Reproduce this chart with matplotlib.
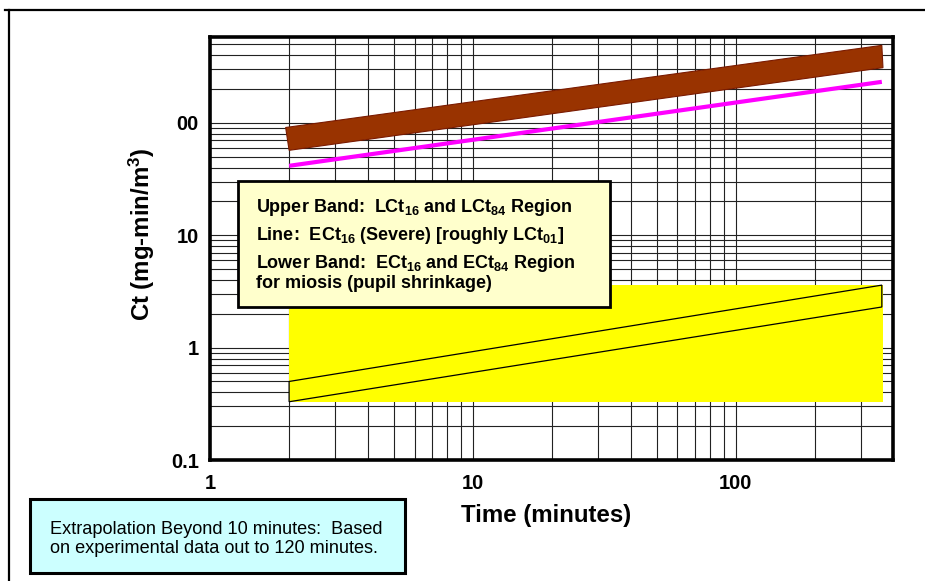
import matplotlib
matplotlib.use("Agg")
import matplotlib.pyplot as plt
from matplotlib.patches import Rectangle, Polygon
from matplotlib.lines import Line2D
from matplotlib.ticker import FixedLocator, LogLocator, NullFormatter

plt.rcParams['font.family'] = ['Liberation Sans', 'DejaVu Sans']
plt.rcParams['mathtext.fontset'] = 'custom'
plt.rcParams['mathtext.rm'] = 'Liberation Sans:bold'
plt.rcParams['mathtext.it'] = 'Liberation Sans:bold'
plt.rcParams['mathtext.bf'] = 'Liberation Sans:bold'

# donnees (temps en minutes, Ct en mg-min/m3)
times = [2, 360]
lct_upper = [91, 490]       # bande haute : LCt16 / LCt84
lct_lower = [57, 310]
ect16_severe = [41.5, 232]  # ligne ECt16 (severe)
miosis_upper = [0.50, 3.6]  # bande basse : ECt16 / ECt84 miosis
miosis_lower = [0.33, 2.3]

x_ticks = [1, 10, 100]
x_ticklabels = ['1', '10', '100']
y_ticks = [0.1, 1, 10, 100]
y_ticklabels = ['0.1', '1', '10', '00']

W, H = 925, 581
fig = plt.figure(figsize=(9.25, 5.81), dpi=100)
ax = fig.add_axes([210 / W, 1 - 460 / H, 683 / W, 423.3 / H])

ax.set_xscale('log')
ax.set_yscale('log')
ax.set_xlim(1, 397)
ax.set_ylim(0.1, 585)

# grille log complete
ax.set_axisbelow(True)
ax.xaxis.set_major_locator(FixedLocator(x_ticks))
ax.yaxis.set_major_locator(FixedLocator(y_ticks))
ax.xaxis.set_minor_locator(LogLocator(base=10, subs=range(2, 10)))
ax.yaxis.set_minor_locator(LogLocator(base=10, subs=range(2, 10)))
ax.xaxis.set_minor_formatter(NullFormatter())
ax.yaxis.set_minor_formatter(NullFormatter())
ax.set_xticklabels(x_ticklabels)
ax.set_yticklabels(y_ticklabels)
ax.grid(True, which='both', color='#222222', linewidth=0.8)
ax.tick_params(which='both', length=0)
ax.tick_params(axis='x', pad=10, labelsize=14.5)
ax.tick_params(axis='y', pad=8, labelsize=14.5)
for lab in ax.get_xticklabels() + ax.get_yticklabels():
    lab.set_fontweight('bold')
for sp in ax.spines.values():
    sp.set_linewidth(2.6)
    sp.set_zorder(5)

# bande basse (miosis) : rectangle jaune + bande
ax.add_patch(Rectangle((times[0], miosis_lower[0]), times[1] * 1.01 - times[0],
                       miosis_upper[1] - miosis_lower[0],
                       facecolor='#FFFF00', edgecolor='none', zorder=2))
ax.add_patch(Polygon([(times[0], miosis_lower[0]), (times[0], miosis_upper[0]),
                      (times[1], miosis_upper[1]), (times[1], miosis_lower[1])],
                     closed=True, facecolor='none', edgecolor='black',
                     linewidth=0.9, zorder=3))

# bande haute (LCt)
ax.add_patch(Polygon([(times[0] * 0.97, lct_upper[0]), (times[1], lct_upper[1]),
                      (times[1] * 1.01, lct_lower[1]), (times[0], lct_lower[0])],
                     closed=True, facecolor='#993300', edgecolor='#7a1a00',
                     linewidth=0.8, zorder=3))

# ligne ECt16
ax.plot(times, ect16_severe, color='#FF00FF', linewidth=3, zorder=3,
        solid_capstyle='butt')

ax.set_xlabel('Time (minutes)', fontsize=17.3, fontweight='bold')
ax.xaxis.set_label_coords(0.492, -0.105)
ax.set_ylabel('Ct (mg-min/m$^3$)', fontsize=17.3, fontweight='bold')
ax.yaxis.set_label_coords(-0.078, 0.534)

# cadre exterieur
fig.add_artist(Line2D([8.5 / W, 8.5 / W], [0, 1 - 10 / H], color='black',
                      linewidth=1.6, transform=fig.transFigure))
fig.add_artist(Line2D([5 / W, 1], [1 - 10 / H, 1 - 10 / H], color='black',
                      linewidth=1.6, transform=fig.transFigure))

# encadre legende
fig.add_artist(Rectangle((237.5 / W, 1 - 306.5 / H), 372.5 / W, 125.5 / H,
                         facecolor='#FFFFCC', edgecolor='black', linewidth=2,
                         transform=fig.transFigure, zorder=6))
legend_lines = [
    (207, 'Upper Band:  LCt$_{16}$ and LCt$_{84}$ Region'),
    (236, 'Line:  ECt$_{16}$ (Severe) [roughly LCt$_{01}$]'),
    (263.5, 'Lower Band:  ECt$_{16}$ and ECt$_{84}$ Region'),
    (284, 'for miosis (pupil shrinkage)'),
]
for yy, txt in legend_lines:
    fig.text(256 / W, 1 - yy / H, txt, fontsize=13, fontweight='bold',
             va='center', ha='left', zorder=7)

# encadre extrapolation
fig.add_artist(Rectangle((30 / W, 1 - 572.5 / H), 375 / W, 73.5 / H,
                         facecolor='#CCFFFF', edgecolor='black', linewidth=2.2,
                         transform=fig.transFigure, zorder=6))
fig.text(49.5 / W, 1 - 529 / H, 'Extrapolation Beyond 10 minutes:  Based',
         fontsize=13.1, va='center', ha='left', zorder=7)
fig.text(49.5 / W, 1 - 548.5 / H, 'on experimental data out to 120 minutes.',
         fontsize=13.1, va='center', ha='left', zorder=7)

fig.savefig('out.png', dpi=100)
